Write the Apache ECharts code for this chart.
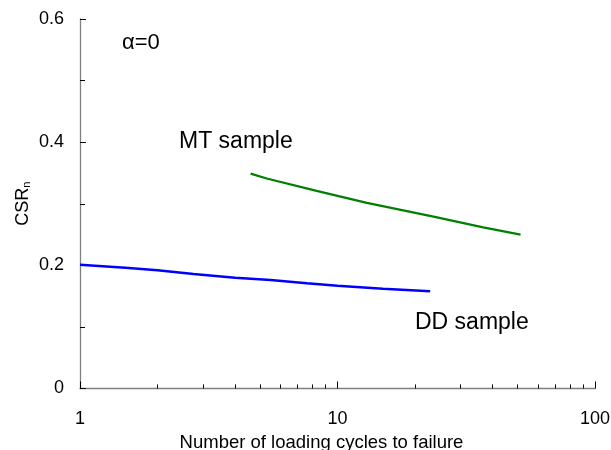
<!DOCTYPE html>
<html>
<head>
<meta charset="utf-8">
<script src="https://cdn.jsdelivr.net/npm/echarts@6/dist/echarts.min.js"></script>
<style>html,body{margin:0;padding:0;background:#fff;}#c{width:611px;height:450px;}</style>
</head>
<body>
<div id="c"></div>
<script>
// Data
const ddCycles = [1, 1.5, 2, 2.76, 4, 5.5, 7.6, 10, 15, 22.9];
const ddCSR    = [0.201, 0.196, 0.192, 0.186, 0.180, 0.176, 0.171, 0.167, 0.162, 0.158];
const mtCycles = [4.6, 5.31, 8.3, 13.0, 23.6, 36.8, 51.4];
const mtCSR    = [0.349, 0.341, 0.321, 0.3016, 0.279, 0.2617, 0.250];
const xMajorTicks = [1, 10, 100];
const xMinorTicks = [2, 3, 4, 5, 6, 7, 8, 9, 20, 30, 40, 50, 60, 70, 80, 90];
const yTicks = [0, 0.2, 0.4, 0.6];

const FONT = 'Liberation Sans, Arial, sans-serif';
const chart = echarts.init(document.getElementById('c'), null, {renderer: 'canvas'});
const pair = (xs, ys) => xs.map((x, i) => [x, ys[i]]);

chart.setOption({
  animation: false,
  backgroundColor: '#fff',
  grid: {left: 80, right: 16, top: 19, bottom: 61.5, containLabel: false, outerBoundsMode: 'none'},
  xAxis: [{
    type: 'log', logBase: 10, min: 1, max: 100, position: 'bottom',
    name: 'Number of loading cycles to failure',
    nameLocation: 'middle', nameGap: 45,
    nameTextStyle: {fontFamily: FONT, fontSize: 18.5, color: '#000', padding: [0, 32, 0, 0]},
    axisLine: {show: true, lineStyle: {color: '#808080', width: 1.3}},
    axisTick: {show: true, inside: true, length: 7, lineStyle: {color: '#000'}, customValues: xMajorTicks},
    axisLabel: {fontFamily: FONT, fontSize: 18, color: '#000', margin: 22, customValues: xMajorTicks},
    splitLine: {show: false}
  }, {
    type: 'log', logBase: 10, min: 1, max: 100, position: 'bottom',
    axisLine: {show: false},
    axisTick: {show: true, inside: true, length: 4, lineStyle: {color: '#000'}, customValues: xMinorTicks},
    axisLabel: {show: false},
    splitLine: {show: false}
  }],
  yAxis: {
    type: 'value', min: 0, max: 0.6, interval: 0.2,
    name: 'CSR{s|n}', nameLocation: 'middle', nameGap: 48, nameMoveOverlap: false,
    nameTextStyle: {fontFamily: FONT, fontSize: 18, color: '#000',
      rich: {s: {fontFamily: FONT, fontSize: 11, color: '#000', verticalAlign: 'bottom', padding: [4, 0, 0, 0]}}},
    axisLine: {show: true, lineStyle: {color: '#808080', width: 1.3}},
    axisTick: {show: true, inside: true, length: 6, lineStyle: {color: '#000'}},
    minorTick: {show: true, splitNumber: 2, length: 5, lineStyle: {color: '#000'}},
    axisLabel: {fontFamily: FONT, fontSize: 18, color: '#000', margin: 16,
      formatter: v => yTicks.includes(+v.toFixed(1)) ? String(+v.toFixed(1)) : ''},
    splitLine: {show: false}
  },
  series: [{
    name: 'DD sample', type: 'line', xAxisIndex: 0, showSymbol: false,
    data: pair(ddCycles, ddCSR),
    lineStyle: {color: '#0000ff', width: 2.5}
  }, {
    name: 'MT sample', type: 'line', xAxisIndex: 0, showSymbol: false,
    data: pair(mtCycles, mtCSR),
    lineStyle: {color: '#008000', width: 2.3}
  }],
  graphic: [
    {type: 'text', left: 122, top: 32, style: {text: 'α=0', font: '22px ' + FONT, fill: '#000'}},
    {type: 'text', left: 179, top: 130, style: {text: 'MT sample', font: '23px ' + FONT, fill: '#000'}},
    {type: 'text', left: 415, top: 311, style: {text: 'DD sample', font: '23px ' + FONT, fill: '#000'}}
  ]
});
</script>
</body>
</html>
